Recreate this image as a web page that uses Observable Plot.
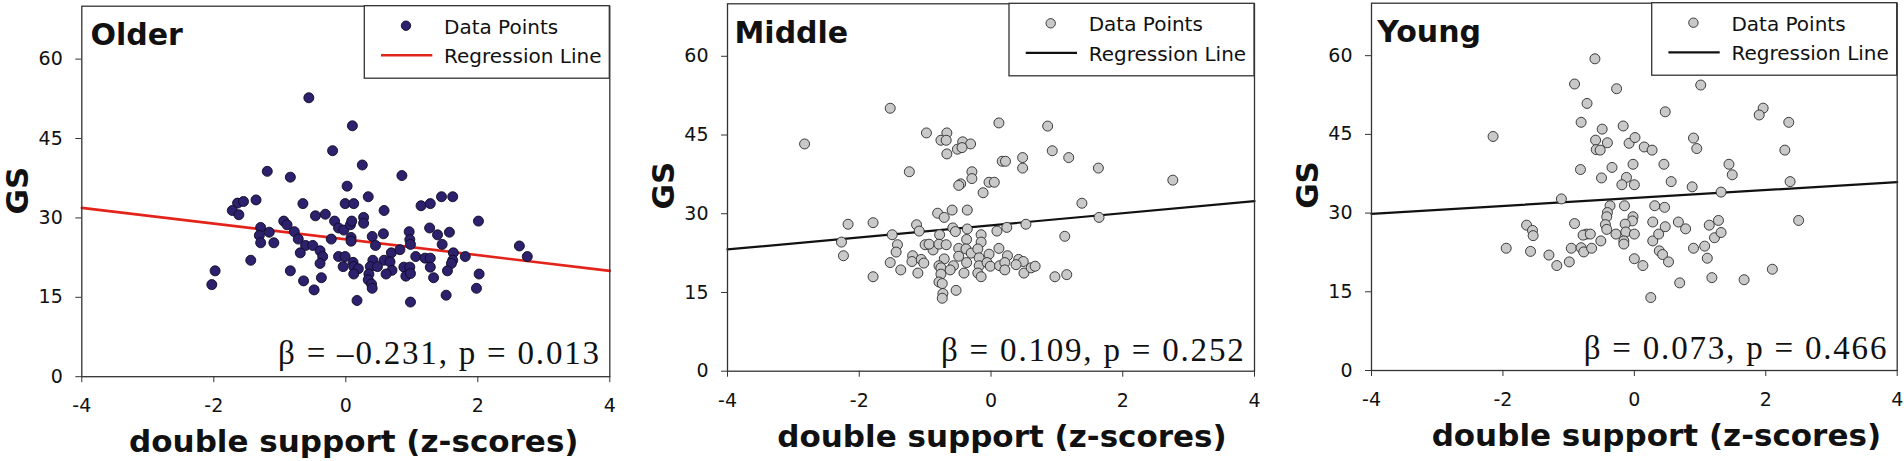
<!DOCTYPE html>
<html><head><meta charset="utf-8">
<script src="https://cdn.jsdelivr.net/npm/d3@7"></script>
<script src="https://cdn.jsdelivr.net/npm/@observablehq/plot@0.6"></script>
<style>
body{margin:0;background:#fff;}
#wrap{position:relative;width:1904px;height:461px;overflow:hidden;background:#fff;}
#wrap > div{position:absolute;top:0;}
</style></head><body><div id="wrap"></div>
<script>
// ---- data ----
const olderX = [-0.56,0.10,-0.20,0.25,-1.19,-0.84,0.85,0.02,-1.64,-1.55,
  -1.36,-1.72,-1.62,-0.65,-0.01,0.12,0.34,0.58,-0.46,-0.31,
  -0.17,-0.11,-0.03,0.07,0.09,0.27,0.27,-0.94,-0.89,-1.29,
  -1.16,-1.31,-1.29,-1.09,-1.44,-0.78,-0.72,-0.61,-0.50,-0.69,
  -0.39,-0.35,-0.39,-0.22,0.08,0.08,-0.11,-0.01,0.40,0.45,
  0.57,0.69,0.82,0.96,0.97,0.98,0.41,0.58,0.67,0.11,
  -0.04,0.12,0.19,0.37,0.48,0.12,0.35,0.34,0.39,0.40,
  0.70,0.61,0.88,0.97,0.91,0.98,1.06,1.20,1.28,1.27,
  1.14,1.28,1.45,1.62,1.39,1.57,1.46,1.28,1.33,1.63,
  1.62,1.60,1.54,1.81,2.01,2.02,1.98,1.52,0.98,0.17,
  -0.48,-0.64,-0.84,-0.37,-1.98,-2.03,2.63,2.75];
const olderY = [52.7,47.4,42.7,40.0,38.8,37.7,38.0,36.0,32.8,33.1,
  33.4,31.4,30.6,32.7,32.7,32.7,34.0,31.4,30.4,30.7,
  29.4,28.1,27.7,28.7,29.4,30.1,29.0,29.4,28.7,28.2,
  27.3,26.7,25.3,25.3,22.0,27.4,26.0,24.8,24.8,23.4,
  23.8,22.7,21.4,26.0,26.3,25.6,22.7,22.7,26.5,24.8,
  27.0,23.4,24.0,27.4,25.9,25.0,22.0,22.0,21.7,21.6,
  20.8,20.8,20.4,20.8,20.8,19.4,19.4,18.3,17.5,16.7,
  20.1,19.4,20.7,20.7,19.0,19.5,22.7,22.4,22.4,28.1,
  32.3,32.7,34.0,34.0,26.8,27.3,25.0,20.7,18.7,23.4,
  22.0,21.4,20.0,22.7,29.4,19.4,16.7,15.4,14.1,14.4,
  16.4,18.1,20.0,18.7,20.0,17.4,24.7,22.7];

const middleX = [-1.53,-2.83,-0.98,-0.67,-0.76,-0.68,-0.43,-0.31,-0.51,-0.44,
  -0.67,0.12,0.86,0.93,1.18,1.63,2.76,0.17,0.22,0.48,
  0.48,-1.24,-0.29,-0.29,-0.46,-0.49,-0.03,0.05,-0.12,1.38,
  -0.81,-0.71,-0.59,-0.36,-2.17,-1.79,-1.13,-1.09,-1.50,-2.27,
  -2.24,-1.79,-0.78,-0.58,-0.54,-0.36,-0.15,0.09,0.24,0.53,
  1.64,1.12,-0.15,-0.37,-1.42,-1.44,-1.53,-1.37,-1.11,-1.19,
  -1.20,-1.06,-1.02,-1.00,-0.88,-0.94,-0.79,-0.68,-0.71,-0.79,
  -0.76,-0.57,-0.62,-0.76,-0.79,-0.74,-0.73,-0.74,-0.53,-0.49,
  -0.49,-0.37,-0.41,-0.38,-0.30,-0.20,-0.18,-0.18,-0.20,-0.15,
  -0.03,-0.06,-0.01,0.12,0.13,0.25,0.21,0.21,0.42,0.49,
  0.38,0.50,0.61,0.67,0.97,1.15];
const middleY = [50.1,43.3,45.4,45.4,44.0,44.0,43.7,43.3,42.3,42.6,
  41.4,47.3,46.7,42.0,40.7,38.7,36.4,40.0,40.0,40.7,
  38.7,38.0,38.0,36.7,35.7,35.4,36.0,36.0,34.0,32.0,
  30.1,29.3,30.7,30.7,28.0,28.3,27.9,26.7,26.0,24.6,
  22.0,18.0,26.0,27.3,26.6,27.1,26.0,26.7,27.4,28.0,
  29.3,25.7,24.6,25.1,24.1,22.7,20.7,19.3,18.7,22.0,
  20.9,21.3,20.6,24.1,23.1,24.2,24.2,24.1,21.4,20.1,
  19.7,20.1,19.3,18.5,17.0,16.7,14.8,13.9,15.4,23.4,
  21.9,20.7,18.7,23.3,22.5,23.3,21.6,20.1,18.7,18.0,
  22.3,20.7,20.0,23.4,20.1,22.0,20.7,19.3,21.3,20.9,
  20.3,18.7,19.7,20.0,18.0,18.4];

const youngX = [-0.60,-0.91,-0.27,1.01,-0.72,0.47,1.96,1.90,2.35,-0.81,
  -0.49,-0.17,-2.15,-0.59,-0.41,-0.58,-0.52,-0.08,0.01,0.15,
  0.27,0.90,0.95,2.29,-0.82,-0.34,-0.02,0.45,1.44,1.49,
  -0.50,-0.12,-0.19,0.00,0.56,0.88,1.32,2.37,-1.11,-0.37,
  -0.15,0.31,0.46,-0.41,-0.42,-0.02,-0.03,-0.14,-0.44,-0.42,
  -0.28,-0.13,0.00,-0.16,-0.16,-0.91,-1.64,-1.55,-1.54,-0.73,
  -0.78,-0.67,-0.51,-0.96,-0.81,-0.77,-0.65,-1.95,-1.58,-1.30,
  -1.18,-0.99,0.28,0.28,0.37,0.47,0.67,0.78,0.38,0.43,
  0.52,0.00,0.13,0.25,0.69,0.90,1.07,1.11,1.14,1.28,
  1.22,1.32,1.18,1.67,2.10,2.50];
const youngY = [59.4,54.6,53.7,54.4,50.9,49.3,50.0,48.7,47.3,47.3,
  46.0,46.6,44.6,43.9,43.4,42.1,42.0,43.3,44.4,42.6,
  42.0,44.3,42.3,42.0,38.3,38.7,39.3,39.3,39.3,37.3,
  36.7,36.8,35.4,35.4,36.0,35.0,34.0,36.0,32.7,31.4,
  31.4,31.4,31.1,30.1,29.3,29.3,28.5,27.9,27.8,26.9,
  26.0,26.4,26.0,24.7,24.1,28.0,27.7,26.7,25.7,26.0,
  25.8,26.0,24.7,23.3,23.4,22.6,23.3,23.3,22.7,22.0,
  20.0,20.7,28.3,24.7,26.0,27.4,28.3,27.0,22.8,22.1,
  20.7,21.3,20.0,13.9,16.7,23.3,23.7,21.4,27.7,28.6,
  25.3,26.3,17.7,17.3,19.3,28.6];

// regression line end points (x = -4 and x = 4)
const regX = [-4, 4];
const olderReg = [31.9, 20.0];
const middleReg = [23.2, 32.4];
const youngReg = [29.85, 35.9];

const xTicks = [-4, -2, 0, 2, 4];
const yTicks = [0, 15, 30, 45, 60];
const titles = ["Older", "Middle", "Young"];
const stats = ["\u03B2 = \u20130.231, p = 0.013", "\u03B2 = 0.109, p = 0.252", "\u03B2 = 0.073, p = 0.466"];
const legendLabels = ["Data Points", "Regression Line"];
const xLabel = "double support (z-scores)";
const yLabel = "GS";

// ---- layout / styles per panel ----
const panels = [
  {xs: olderX, ys: olderY, reg: olderReg, left: 0, width: 620, ml: 81.3, mr: 10.7, mt: 5.7, mb: 84.8,
   fill: "#2d216e", stroke: "#0d0a25", line: "#e3241b", lineW: 2.6, titleDx: 8.7, xlDx: 8, gsDx: -64, gsDy: 23, statDy: -13},
  {xs: middleX, ys: middleY, reg: middleReg, left: 640, width: 620, ml: 87, mr: 6, mt: 3.3, mb: 90.3,
   fill: "#c9c9c9", stroke: "#2a2a2a", line: "#111", lineW: 2.2, titleDx: 7, xlDx: 11, gsDx: -63.5, gsDy: 22, statDy: -10.7},
  {xs: youngX, ys: youngY, reg: youngReg, left: 1284, width: 620, ml: 87, mr: 7.3, mt: 2.7, mb: 91,
   fill: "#c9c9c9", stroke: "#2a2a2a", line: "#111", lineW: 2.2, titleDx: 5.7, xlDx: 22, gsDx: -63.5, gsDy: 22, statDy: -12}
];

const SANS = "'DejaVu Sans', sans-serif";
const SERIF = "'Liberation Serif', 'Times New Roman', serif";

panels.forEach((p, i) => {
  const pts = p.xs.map((x, k) => ({x, y: p.ys[k]}));
  const reg = regX.map((x, k) => ({x, y: p.reg[k]}));

  const legend = (index, scales, values, dim) => {
    const R = dim.width - dim.marginRight, T = dim.marginTop;
    const W = 245, H = 72.5, L = R - W;
    const g = d3.create("svg:g");
    g.append("rect").attr("x", L).attr("y", T).attr("width", W).attr("height", H)
      .attr("fill", "#fff").attr("stroke", "#333").attr("stroke-width", 1.3);
    g.append("circle").attr("cx", L + 41.7).attr("cy", T + 20).attr("r", 4.7)
      .attr("fill", p.fill).attr("stroke", p.stroke).attr("stroke-width", 0.9);
    g.append("line").attr("x1", L + 16.7).attr("x2", L + 68).attr("y1", T + 49.6).attr("y2", T + 49.6)
      .attr("stroke", p.line).attr("stroke-width", p.lineW);
    g.append("text").attr("x", L + 79.7).attr("y", T + 28).text(legendLabels[0])
      .attr("text-anchor", "start").attr("font-family", SANS).attr("font-size", 20).attr("fill", "#111");
    g.append("text").attr("x", L + 79.7).attr("y", T + 57.3).text(legendLabels[1])
      .attr("text-anchor", "start").attr("font-family", SANS).attr("font-size", 20).attr("fill", "#111");
    return g.node();
  };

  const svg = Plot.plot({
    width: p.width,
    height: 461,
    marginLeft: p.ml, marginRight: p.mr, marginTop: p.mt, marginBottom: p.mb,
    style: {fontFamily: SANS, fontSize: "19px", background: "white", overflow: "visible", color: "#111"},
    x: {domain: [-4, 4]},
    y: {domain: [0, 70]},
    marks: [
      Plot.line(reg, {x: "x", y: "y", stroke: p.line, strokeWidth: p.lineW}),
      Plot.dot(pts, {x: "x", y: "y", r: 5, fill: p.fill, stroke: p.stroke, strokeWidth: 0.9}),
      Plot.frame({stroke: "#333", strokeWidth: 1.3}),
      Plot.axisX({ticks: xTicks, tickFormat: d => String(d), tickSize: 6, tickPadding: 16, label: null, stroke: "#333", fill: "#111", fontSize: 19}),
      Plot.axisY({ticks: yTicks, tickFormat: d => String(d), tickSize: 6, tickPadding: 13, label: null, stroke: "#333", fill: "#111", fontSize: 19}),
      Plot.text([titles[i]], {text: d => d, frameAnchor: "top-left", textAnchor: "start", lineAnchor: "bottom",
        dx: p.titleDx, dy: 39, fontSize: 30, fontWeight: "bold", fill: "#111", fontFamily: SANS}),
      Plot.text([stats[i]], {text: d => d, frameAnchor: "bottom-right", textAnchor: "end", lineAnchor: "bottom",
        dx: -9, dy: p.statDy, fontSize: 33, fill: "#111", fontFamily: SERIF}),
      Plot.text([xLabel], {text: d => d, frameAnchor: "bottom", lineAnchor: "bottom",
        dx: p.xlDx, dy: 75.5, fontSize: 31, fontWeight: "bold", fill: "#111", fontFamily: SANS}),
      Plot.text([yLabel], {text: d => d, frameAnchor: "left", rotate: -90,
        dx: p.gsDx, dy: p.gsDy, fontSize: 31, fontWeight: "bold", fill: "#111", fontFamily: SANS}),
      legend
    ]
  });
  d3.select(svg).selectAll("text").filter(function() { return this.textContent.startsWith("\u03B2"); })
    .style("letter-spacing", "1.8px");
  const holder = document.createElement("div");
  holder.style.left = p.left + "px";
  holder.appendChild(svg);
  document.getElementById("wrap").appendChild(holder);
});
</script>
</body></html>
